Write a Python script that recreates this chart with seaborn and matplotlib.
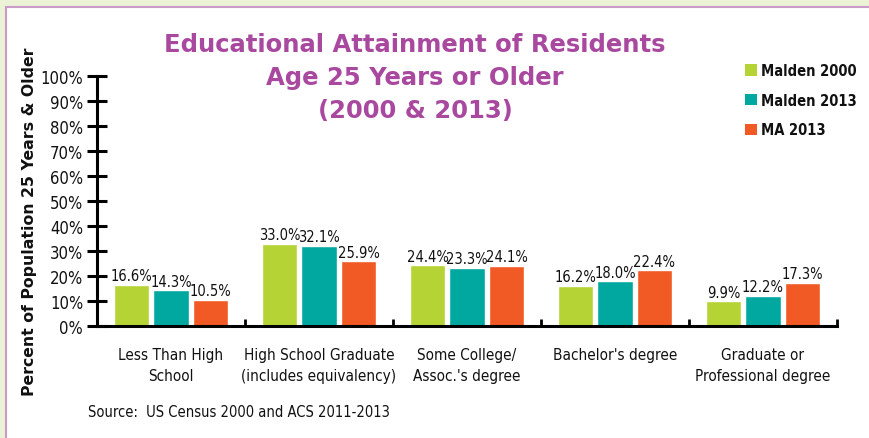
import matplotlib
matplotlib.use("Agg")
import matplotlib.pyplot as plt
import matplotlib.patches as mpatches
import seaborn as sns
import pandas as pd
from matplotlib.ticker import FixedLocator

categories = ["Less Than High\nSchool", "High School Graduate\n(includes equivalency)",
              "Some College/\nAssoc.'s degree", "Bachelor's degree",
              "Graduate or\nProfessional degree"]
series = ["Malden 2000", "Malden 2013", "MA 2013"]
malden_2000 = [16.6, 33.0, 24.4, 16.2, 9.9]
malden_2013 = [14.3, 32.1, 23.3, 18.0, 12.2]
ma_2013 = [10.5, 25.9, 24.1, 22.4, 17.3]
y_ticks = [0, 10, 20, 30, 40, 50, 60, 70, 80, 90, 100]

colors = ["#B5D334", "#00A8A0", "#F15A24"]

df = pd.DataFrame({
    "category": categories * 3,
    "series": [series[0]] * 5 + [series[1]] * 5 + [series[2]] * 5,
    "value": malden_2000 + malden_2013 + ma_2013,
})

sns.set_theme(style="white")
plt.rcParams["font.family"] = ["DejaVu Sans"]
plt.rcParams["font.stretch"] = "condensed"

fig = plt.figure(figsize=(8.69, 4.39), dpi=100, facecolor="#EBF2D6")
fig.patches.append(mpatches.Rectangle((6 / 869, -0.1), 1.2, 1.1 - 8 / 439, transform=fig.transFigure,
                                      facecolor="white", edgecolor="#C99BC6", linewidth=1.5,
                                      zorder=-10))

ax = fig.add_axes([97 / 869, 1 - 327 / 439, (837 - 97) / 869, 250 / 439])
ax.set_facecolor("none")
sns.barplot(data=df, x="category", y="value", hue="series", palette=colors,
            order=categories, hue_order=series, width=0.8, gap=0.1, ax=ax,
            legend=False, saturation=1)

for cont in ax.containers:
    ax.bar_label(cont, fmt="%.1f%%", padding=1, fontsize=10.5, color="#111111",
                 fontstretch="condensed")

ax.set_ylim(0, 100)
ax.set_xlim(-0.5, 4.5)
ax.yaxis.set_major_locator(FixedLocator(y_ticks))
ax.set_yticklabels([f"{t}%" for t in y_ticks], fontsize=12, fontstretch="condensed")
ax.tick_params(axis="y", direction="inout", length=14, width=2.2, pad=3, color="black",
               left=True, labelcolor="#111111")
ax.tick_params(axis="x", which="major", length=0, pad=15, labelsize=11, labelcolor="#111111")
ax.xaxis.set_minor_locator(FixedLocator([0.5, 1.5, 2.5, 3.5, 4.5]))
ax.tick_params(axis="x", which="minor", direction="in", length=5, width=2, color="black", bottom=True)
for lbl in ax.get_xticklabels():
    lbl.set_va("top")
    lbl.set_linespacing(1.55)
    lbl.set_fontstretch("condensed")

for s in ["top", "right"]:
    ax.spines[s].set_visible(False)
for s in ["left", "bottom"]:
    ax.spines[s].set_color("black")
    ax.spines[s].set_linewidth(2.2)
ax.set_xlabel("")
ax.set_ylabel("")

fig.text(30 / 869, 1 - 222 / 439, "Percent of Population 25 Years & Older", rotation=90,
         ha="center", va="center", fontsize=11.3, fontweight="bold", fontstretch="normal",
         color="#111111")

title_color = "#A9489F"
for txt, yy in [("Educational Attainment of Residents", 45), ("Age 25 Years or Older", 78),
                ("(2000 & 2013)", 111)]:
    fig.text(415 / 869, 1 - yy / 439, txt, ha="center", va="center", fontsize=17.5,
             fontweight="bold", color=title_color, fontstretch="normal")

handles = [mpatches.Patch(facecolor=c, edgecolor="none") for c in colors]
leg = fig.legend(handles, series, loc="upper left", bbox_to_anchor=(745 / 869, 1 - 64 / 439),
                 frameon=False, handlelength=0.8, handleheight=0.8,
                 handletextpad=0.3, labelspacing=1.0, borderaxespad=0, borderpad=0,
                 prop={"weight": "bold", "stretch": "condensed", "size": 10.5})
for t in leg.get_texts():
    t.set_color("#111111")

fig.text(88 / 869, 1 - 413 / 439, "Source:  US Census 2000 and ACS 2011-2013", ha="left",
         va="center", fontsize=10.5, color="#111111", fontstretch="condensed")

fig.savefig("out.png", dpi=100, facecolor=fig.get_facecolor())
